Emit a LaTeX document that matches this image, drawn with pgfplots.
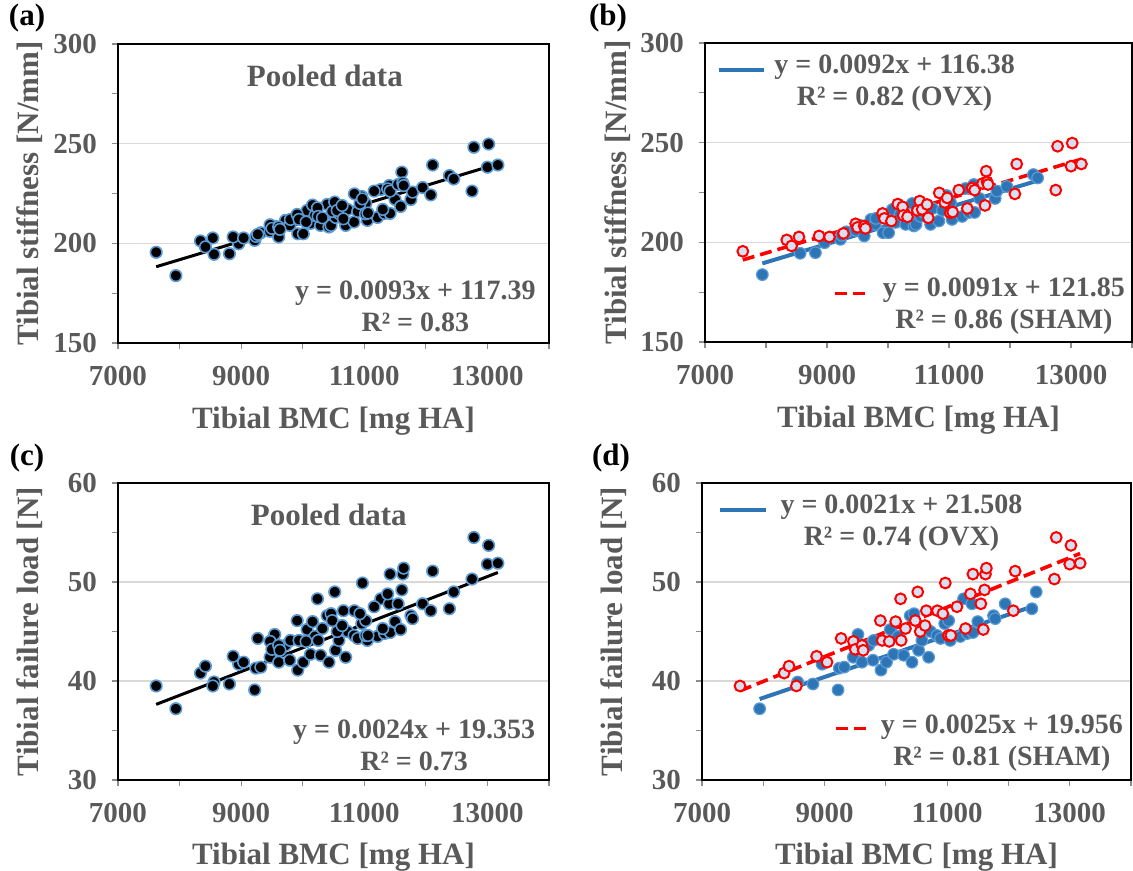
\documentclass[border=0pt]{standalone}
\usepackage{fontspec}
\setmainfont{Liberation Serif}
\usepackage{pgfplots}
\usepackage{pgfplotstable}
\pgfplotsset{compat=1.18}

\definecolor{txt}{HTML}{595959}
\definecolor{tickgray}{HTML}{8C8C8C}
\definecolor{gridgray}{HTML}{D9D9D9}
\definecolor{ovxblue}{HTML}{2E75B6}
\definecolor{ovxedge}{HTML}{5B9BD5}
\definecolor{shamfill}{HTML}{D6E0F0}
\definecolor{shamred}{HTML}{FF0000}

% bmc [mg HA], stiffness [N/mm], failure load [N]
\pgfplotstableread{
bmc stiff load
7620 195.5 39.5
8340 201.2 40.8
8420 198.2 41.5
8540 202.7 39.5
8870 203.2 42.5
9040 202.7 41.9
9270 204.5 44.3
9470 209.3 44.0
9500 207.5 43.2
9610 208.2 43.6
9630 207.0 43.1
9910 214.5 46.1
9940 212.0 44.1
10055 210.7 44.0
10160 219.2 46.0
10240 217.8 48.3
10250 213.5 44.1
10320 212.8 45.3
10480 216.0 46.1
10520 220.7 49.0
10560 216.5 45.0
10640 219.0 45.6
10660 212.3 47.1
10840 224.8 47.1
10930 220.0 46.8
10970 222.3 49.9
11020 214.8 44.6
11060 215.2 44.6
11160 226.2 47.5
11300 217.0 45.3
11380 227.3 48.8
11420 226.2 50.8
11550 229.5 47.8
11590 218.5 45.2
11610 235.7 49.2
11625 230.3 50.8
11640 229.0 51.4
12080 224.3 47.1
12110 239.3 51.1
12750 226.2 50.3
12780 248.2 54.5
13000 238.2 51.8
13020 249.8 53.7
13170 239.3 51.9
}\sham

\pgfplotstableread{
bmc stiff load
7940 183.8 37.2
8560 194.5 39.9
8810 194.8 39.7
8960 199.8 41.7
9220 201.5 39.1
9240 203.5 41.3
9320 205.3 41.4
9470 206.0 42.4
9545 208.5 44.7
9610 203.2 41.9
9720 211.5 43.6
9790 209.0 42.1
9800 212.0 44.1
9920 204.8 41.1
10010 204.8 41.9
10072 216.5 45.2
10126 210.0 42.7
10200 214.0 44.5
10290 209.0 42.6
10398 219.5 46.6
10426 208.2 41.9
10460 209.0 46.8
10534 213.0 43.1
10588 215.0 44.1
10698 209.0 42.4
10730 217.0 45.0
10834 210.7 44.6
10893 216.0 44.3
10960 223.5 45.8
11024 220.0 46.1
11050 211.5 44.1
11215 213.0 44.5
11268 227.0 48.3
11330 215.0 44.8
11405 229.0 47.8
11420 215.0 44.9
11500 222.0 46.0
11757 222.0 46.6
11784 225.7 46.3
11947 228.0 47.8
12383 234.0 47.3
12453 232.3 49.0
}\ovx

\tikzset{
  note/.style={font=\bfseries\fontsize{14}{16}\selectfont, text=txt, align=center},
  bignote/.style={font=\bfseries\fontsize{15.5}{16}\selectfont, text=txt},
  panellabel/.style={font=\bfseries\fontsize{15.5}{16}\selectfont},
}

\pgfplotsset{
  panel/.style={
    scale only axis,
    xmin=7000, xmax=14000,
    xtick={7000,9000,11000,13000},
    minor xtick={8000,10000,12000,14000},
    scaled x ticks=false,
    xtick pos=lower, ytick pos=left,
    tick align=outside,
    major tick length=3pt, minor tick length=3pt,
    every tick/.style={draw=tickgray, line width=0.6pt},
    axis line style={black, line width=1.1pt},
    ymajorgrids,
    grid style={draw=gridgray, line width=0.6pt},
    ticklabel style={font=\bfseries\fontsize{14.5}{15}\selectfont, text=txt},
    xticklabel style={yshift=-5pt},
    yticklabel style={xshift=-4pt},
    /pgf/number format/1000 sep={},
    /pgf/number format/assume math mode=true,
    xlabel={Tibial BMC [mg HA]},
    label style={font=\bfseries\fontsize{15.5}{16}\selectfont, text=txt},
    xlabel style={at={(axis description cs:0.5,-0.26)}, anchor=center},
    ylabel style={at={(axis description cs:-0.205,0.5)}, anchor=center},
    clip=false,
  },
  stiffax/.style={ymin=150, ymax=300, ytick={150,200,250,300}, minor ytick={175,225,275},
    ylabel={Tibial stiffness [N/mm]}},
  loadax/.style={ymin=30, ymax=60, ytick={30,40,50,60}, minor ytick={35,45,55},
    ylabel={Tibial failure load [N]}},
  pooled/.style={only marks, mark=*, mark size=2.9pt,
    mark options={fill=black, draw=ovxedge, line width=0.8pt}},
  ovxpts/.style={only marks, mark=*, mark size=2.9pt,
    mark options={fill=ovxblue, draw=ovxedge, line width=0.6pt}},
  shampts/.style={only marks, mark=*, mark size=2.7pt,
    mark options={fill=shamfill, draw=shamred, line width=1pt}},
}

\begin{document}
\begin{tikzpicture}
\path[use as bounding box] (0,0) rectangle (566.5pt,-435.5pt);

% (a)
\begin{axis}[panel, stiffax, at={(59pt,-22pt)}, anchor=north west, width=215.5pt, height=149.5pt]
\addplot[pooled] table[x=bmc, y=stiff] {\ovx};
\addplot[pooled] table[x=bmc, y=stiff] {\sham};
\addplot[black, line width=1.5pt] coordinates {(7620,188.26) (13170,239.87)};
\node[bignote] at (axis description cs:0.48,0.893) {Pooled data};
\node[note] at (axis description cs:0.69,0.122) {y = 0.0093x + 117.39\\R² = 0.83};
\end{axis}

% (b)
\begin{axis}[panel, stiffax, at={(352.5pt,-21.5pt)}, anchor=north west, width=213.5pt, height=149.5pt]
\addplot[ovxpts] table[x=bmc, y=stiff] {\ovx};
\addplot[shampts] table[x=bmc, y=stiff] {\sham};
\addplot[ovxblue, line width=2pt] coordinates {(7940,189.43) (12453,230.95)};
\addplot[shamred, line width=1.8pt, dash pattern=on 6pt off 3pt] coordinates {(7620,191.19) (13170,241.70)};
\draw[ovxblue, line width=2pt] (axis description cs:0.032,0.911) -- (axis description cs:0.137,0.911);
\node[note] at (axis description cs:0.444,0.865) {y = 0.0092x + 116.38\\R² = 0.82 (OVX)};
\draw[shamred, line width=1.8pt, dash pattern=on 6pt off 3pt] (axis description cs:0.304,0.162) -- (axis description cs:0.378,0.162);
\node[note] at (axis description cs:0.70,0.12) {y = 0.0091x + 121.85\\R² = 0.86 (SHAM)};
\end{axis}

% (c)
\begin{axis}[panel, loadax, at={(59pt,-241.5pt)}, anchor=north west, width=215.5pt, height=148.5pt]
\addplot[pooled] table[x=bmc, y=load] {\ovx};
\addplot[pooled] table[x=bmc, y=load] {\sham};
\addplot[black, line width=1.5pt] coordinates {(7620,37.64) (13170,50.96)};
\node[bignote] at (axis description cs:0.489,0.892) {Pooled data};
\node[note] at (axis description cs:0.687,0.115) {y = 0.0024x + 19.353\\R² = 0.73};
\end{axis}

% (d)
\begin{axis}[panel, loadax, at={(351pt,-241.5pt)}, anchor=north west, width=214.5pt, height=148.5pt]
\addplot[ovxpts] table[x=bmc, y=load] {\ovx};
\addplot[shampts] table[x=bmc, y=load] {\sham};
\addplot[ovxblue, line width=2pt] coordinates {(7940,38.18) (12453,47.66)};
\addplot[shamred, line width=1.8pt, dash pattern=on 6pt off 3pt] coordinates {(7620,39.01) (13170,52.88)};
\draw[ovxblue, line width=2pt] (axis description cs:0.043,0.91) -- (axis description cs:0.15,0.91);
\node[note] at (axis description cs:0.465,0.865) {y = 0.0021x + 21.508\\R² = 0.74 (OVX)};
\draw[shamred, line width=1.8pt, dash pattern=on 6pt off 3pt] (axis description cs:0.312,0.174) -- (axis description cs:0.386,0.174);
\node[note] at (axis description cs:0.699,0.125) {y = 0.0025x + 19.956\\R² = 0.81 (SHAM)};
\end{axis}

\node[panellabel] at (13.5pt,-9pt) {(a)};
\node[panellabel] at (304pt,-9pt) {(b)};
\node[panellabel] at (13.5pt,-229pt) {(c)};
\node[panellabel] at (305.5pt,-229pt) {(d)};
\end{tikzpicture}
\end{document}
